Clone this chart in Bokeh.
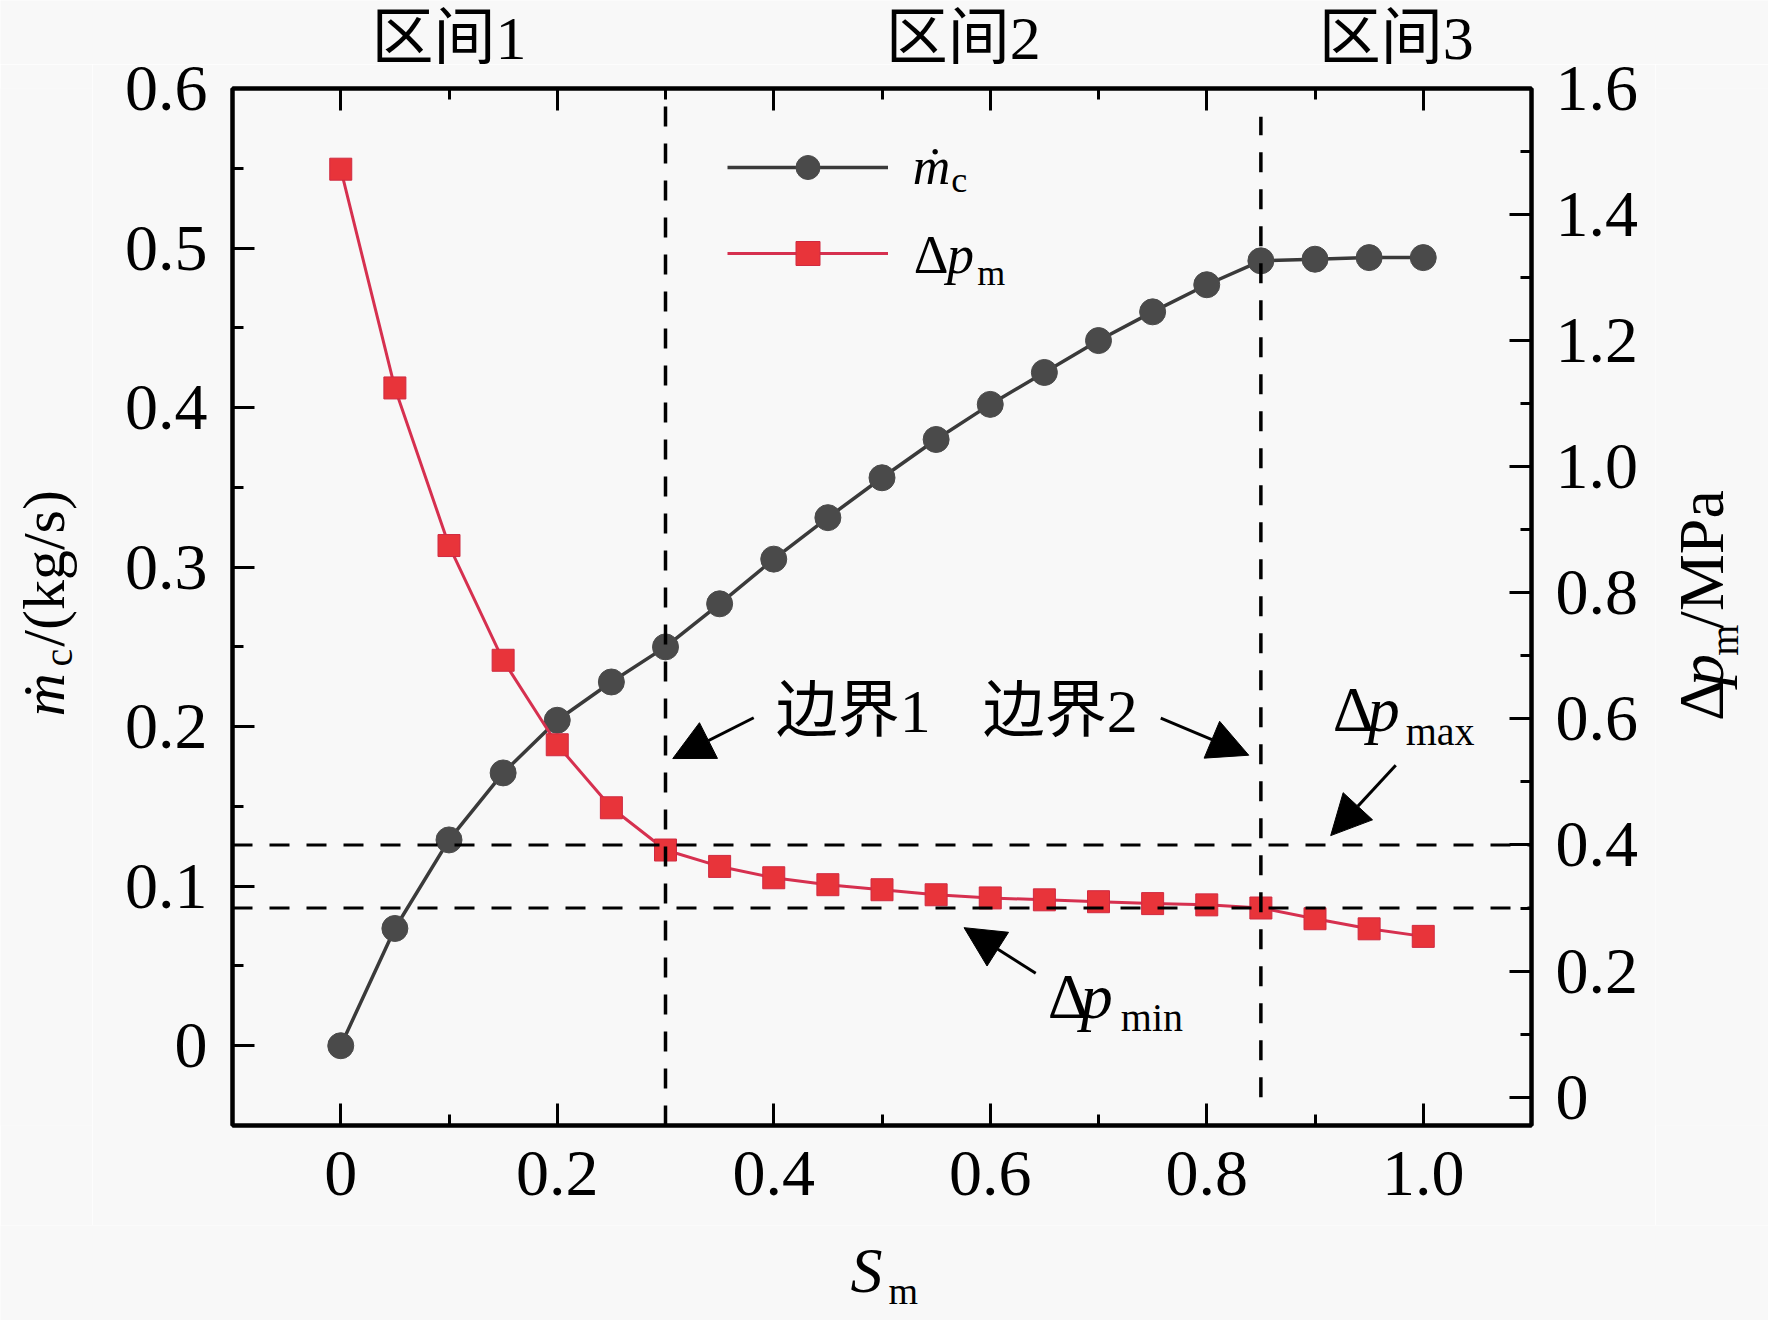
import numpy as np
from bokeh.plotting import figure
from bokeh.layouts import column, row
from bokeh.models import (ColumnDataSource, Range1d, LinearAxis, FixedTicker, Span,
                          Label, Arrow, NormalHead, Legend, LegendItem, CustomJSTickFormatter)
from bokeh.embed import file_html
from bokeh.resources import INLINE

# ---- data ----
s_m = [0.00, 0.05, 0.10, 0.15, 0.20, 0.25, 0.30, 0.35, 0.40, 0.45, 0.50,
       0.55, 0.60, 0.65, 0.70, 0.75, 0.80, 0.85, 0.90, 0.95, 1.00]
m_c = [0.000, 0.0735, 0.129, 0.171, 0.204, 0.228, 0.250, 0.277, 0.305, 0.331, 0.356,
       0.380, 0.402, 0.422, 0.442, 0.460, 0.477, 0.492, 0.493, 0.494, 0.494]
dp_m = [1.472, 1.125, 0.875, 0.693, 0.559, 0.459, 0.392, 0.366, 0.348, 0.337, 0.329,
        0.321, 0.316, 0.313, 0.310, 0.307, 0.305, 0.300, 0.283, 0.267, 0.255]

boundary_x = [0.30, 0.85]
boundary_y0 = [-0.045, 0.0]
boundary_y1 = [1.60, 1.555]
dp_max = 0.4
dp_min = 0.3

x_ticks = [0, 0.2, 0.4, 0.6, 0.8, 1.0]
x_labels = ["0", "0.2", "0.4", "0.6", "0.8", "1.0"]
x_minor = [0.1, 0.3, 0.5, 0.7, 0.9]
yl_ticks = [0, 0.1, 0.2, 0.3, 0.4, 0.5, 0.6]
yl_labels = ["0", "0.1", "0.2", "0.3", "0.4", "0.5", "0.6"]
yl_minor = [0.05, 0.15, 0.25, 0.35, 0.45, 0.55]
yr_ticks = [0, 0.2, 0.4, 0.6, 0.8, 1.0, 1.2, 1.4, 1.6]
yr_labels = ["0", "0.2", "0.4", "0.6", "0.8", "1.0", "1.2", "1.4", "1.6"]
yr_minor = [0.1, 0.3, 0.5, 0.7, 0.9, 1.1, 1.3, 1.5]

region_labels = ["区间1", "区间2", "区间3"]
region_x = [0.10, 0.575, 0.975]

SERIF = "Liberation Serif"
CJK = "Liberation Serif, Noto Sans CJK SC"
BG = "#f8f8f8"
BASE_K = 0.3375  # middle-of-box to alphabetic baseline, in em
VERT_K = 0.40    # baseline offset seen for rotated labels, in em
VERT_DY = 42     # rotated labels come out this many px too high

# page layout in pixels
X_RANGE = (-0.1, 1.1)
YL_RANGE = (-0.05, 0.6)
FRAME_W, FRAME_H = 1299, 1037
LEFT_W, RIGHT_W, TOP_H, BOTTOM_H = 92, 113, 64, 95
B_LEFT, B_RIGHT, B_TOP, B_BOTTOM = 140, 124, 24, 100
MAIN_W = B_LEFT + FRAME_W + B_RIGHT
MAIN_H = B_TOP + FRAME_H + B_BOTTOM
TOTAL_W = LEFT_W + MAIN_W + RIGHT_W
FRAME_L = LEFT_W + B_LEFT
PX_Y = (YL_RANGE[1] - YL_RANGE[0]) / FRAME_H


def page_x(x):
    return FRAME_L + (x - X_RANGE[0]) / (X_RANGE[1] - X_RANGE[0]) * FRAME_W


p = figure(x_range=Range1d(*X_RANGE), y_range=Range1d(*YL_RANGE),
           frame_width=FRAME_W, frame_height=FRAME_H,
           min_border_left=B_LEFT, min_border_right=B_RIGHT,
           min_border_top=B_TOP, min_border_bottom=B_BOTTOM,
           output_backend="svg", toolbar_location=None, tools="")
p.extra_y_ranges = {"dp": Range1d(-0.045, 1.6)}
p.grid.visible = False
p.background_fill_color = BG
p.border_fill_color = BG
p.outline_line_color = "black"
p.outline_line_width = 4


def style_axis(ax, ticks, minor, labels, standoff, show=True):
    ax.ticker = FixedTicker(ticks=ticks, minor_ticks=minor)
    ax.formatter = CustomJSTickFormatter(args=dict(tick_vals=ticks, tick_labels=labels), code="""
        for (let i = 0; i < tick_vals.length; i++) {
            if (Math.abs(tick_vals[i] - tick) < 1e-9) return tick_labels[i];
        }
        return "";
    """)
    ax.major_tick_in = 22
    ax.major_tick_out = 0
    ax.minor_tick_in = 11
    ax.minor_tick_out = 0
    ax.major_tick_line_width = 3
    ax.minor_tick_line_width = 3
    ax.axis_line_width = 4
    ax.major_label_text_font = SERIF
    ax.major_label_text_color = "black"
    ax.major_label_text_font_size = "66px" if show else "1px"
    ax.major_label_text_alpha = 1.0 if show else 0.0
    ax.major_label_standoff = standoff


style_axis(p.xaxis[0], x_ticks, x_minor, x_labels, 26)
style_axis(p.yaxis[0], yl_ticks, yl_minor, yl_labels, 25)

top_axis = LinearAxis()
style_axis(top_axis, x_ticks, x_minor, x_labels, 0, show=False)
p.add_layout(top_axis, "above")

right_axis = LinearAxis(y_range_name="dp")
style_axis(right_axis, yr_ticks, yr_minor, yr_labels, 24)
p.add_layout(right_axis, "right")

# ---- series ----
src = ColumnDataSource(dict(s=s_m, mc=m_c, dp=dp_m))
mc_line = p.line("s", "mc", source=src, line_color="#3a3a3a", line_width=3.5)
mc_pts = p.scatter("s", "mc", source=src, marker="circle", size=26,
                   fill_color="#4a4a4a", line_color="#4a4a4a", line_width=1)
dp_line = p.line("s", "dp", source=src, y_range_name="dp", line_color="#d6304f", line_width=3)
dp_pts = p.scatter("s", "dp", source=src, y_range_name="dp", marker="square", size=22,
                   fill_color="#e8343a", line_color="#d02a40", line_width=1)

# ---- boundary / limit lines ----
bsrc = ColumnDataSource(dict(x=boundary_x, y0=boundary_y0, y1=boundary_y1))
p.segment(x0="x", x1="x", y0="y0", y1="y1", source=bsrc, y_range_name="dp",
          line_color="black", line_width=3.5, line_dash="20 17")
for lvl in (dp_max, dp_min):
    p.add_layout(Span(location=lvl, dimension="width", y_range_name="dp",
                      line_color="black", line_width=3, line_dash="20 17"))

# ---- arrows ----
asrc = ColumnDataSource(dict(
    x0=[0.3815, 0.7575, 0.9746, 0.642],
    y0=[0.2056, 0.2053, 0.1758, 0.0454],
    x1=[0.3067, 0.8388, 0.9145, 0.5758],
    y1=[0.1800, 0.1821, 0.1317, 0.0740],
))
p.add_layout(Arrow(end=NormalHead(size=40, fill_color="black", line_color="black"),
                   source=asrc, x_start="x0", y_start="y0", x_end="x1", y_end="y1",
                   line_color="black", line_width=3))

# ---- legend (labels drawn as rich text below) ----
legend = Legend(items=[LegendItem(label=" ", renderers=[mc_line, mc_pts]),
                       LegendItem(label=" ", renderers=[dp_line, dp_pts])],
                location=(495, 842), glyph_width=161, glyph_height=60, label_height=60,
                spacing=26, padding=0, margin=0, label_standoff=0,
                label_text_font_size="10px", border_line_color=None,
                background_fill_alpha=0)
p.add_layout(legend)


def label(fig, x, y, text, size, style, angle, font, align, baseline="middle"):
    fig.add_layout(Label(x=x, y=y, text=text, text_font=font, text_font_size=f"{size}px",
                         text_font_style=style, angle=angle, text_align=align,
                         text_baseline=baseline, text_color="black"))


def note(x, y, text, size, style="normal", font=SERIF):
    # x, y: data position of the text's left end on its baseline
    label(p, x, y + BASE_K * size * PX_Y, text, size, style, 0.0, font, "left")


# boundary notes
note(0.4018, 0.1969, "边界1", 62, font=CJK)
note(0.5931, 0.1969, "边界2", 62, font=CJK)

# Δp_max / Δp_min
note(0.9164, 0.1969, "Δ", 64)
note(0.9487, 0.1969, "p", 64, "italic")
note(0.9838, 0.1887, "max", 40)
note(0.6531, 0.0176, "Δ", 64)
note(0.6836, 0.0176, "p", 64, "italic")
note(0.7206, 0.0094, "min", 40)

# legend texts
note(0.5284, 0.5404, "ṁ", 52, "italic")
note(0.5640, 0.5348, "c", 36)
note(0.5293, 0.4840, "Δ", 54)
note(0.5600, 0.4840, "p", 54, "italic")
note(0.5880, 0.4765, "m", 36)


# ---- strips around the main plot that hold the outer titles ----
class Strip:
    def __init__(self, x0, y0, w, h):
        self.x0, self.y0, self.h = x0, y0, h
        f = figure(width=w, height=h, x_range=Range1d(0, w), y_range=Range1d(0, h),
                   x_axis_type=None, y_axis_type=None, min_border=0,
                   output_backend="svg", toolbar_location=None, tools="")
        f.outline_line_color = None
        f.background_fill_color = BG
        f.border_fill_color = BG
        f.grid.visible = False
        self.fig = f

    def text(self, px, py, text, size, style="normal", vertical=False, font=SERIF, align="left"):
        # px, py: page pixels of the text's start on its baseline
        lx = px - self.x0
        ly = self.h - (py - self.y0)
        if vertical:
            label(self.fig, lx - VERT_K * size, ly - VERT_DY, text, size, style, np.pi / 2,
                  font, align, baseline="alphabetic")
        else:
            label(self.fig, lx, ly + BASE_K * size, text, size, style, 0.0, font, align)


top = Strip(0, 0, TOTAL_W, TOP_H)
for rx, rl in zip(region_x, region_labels):
    top.text(page_x(rx), 58, rl, 62, font=CJK, align="center")

row_y0 = TOP_H
left = Strip(0, row_y0, LEFT_W, MAIN_H)
left.text(67, 725, "ṁ", 60, "italic", vertical=True)
left.text(74, 669, "c", 40, vertical=True)
left.text(67, 647, "/(kg/s)", 60, vertical=True)

right = Strip(LEFT_W + MAIN_W, row_y0, RIGHT_W, MAIN_H)
right.text(1727, 730, "Δ", 64, vertical=True)
right.text(1727, 691, "p", 64, "italic", vertical=True)
right.text(1740, 657, "m", 40, vertical=True)
right.text(1727, 627, "/MPa", 64, vertical=True)

bottom = Strip(0, row_y0 + MAIN_H, TOTAL_W, BOTTOM_H)
bottom.text(850, 1292, "S", 64, "italic")
bottom.text(888, 1303, "m", 38)

layout = column(top.fig, row(left.fig, p, right.fig), bottom.fig)

open("out.html", "w").write(file_html(layout, INLINE))
